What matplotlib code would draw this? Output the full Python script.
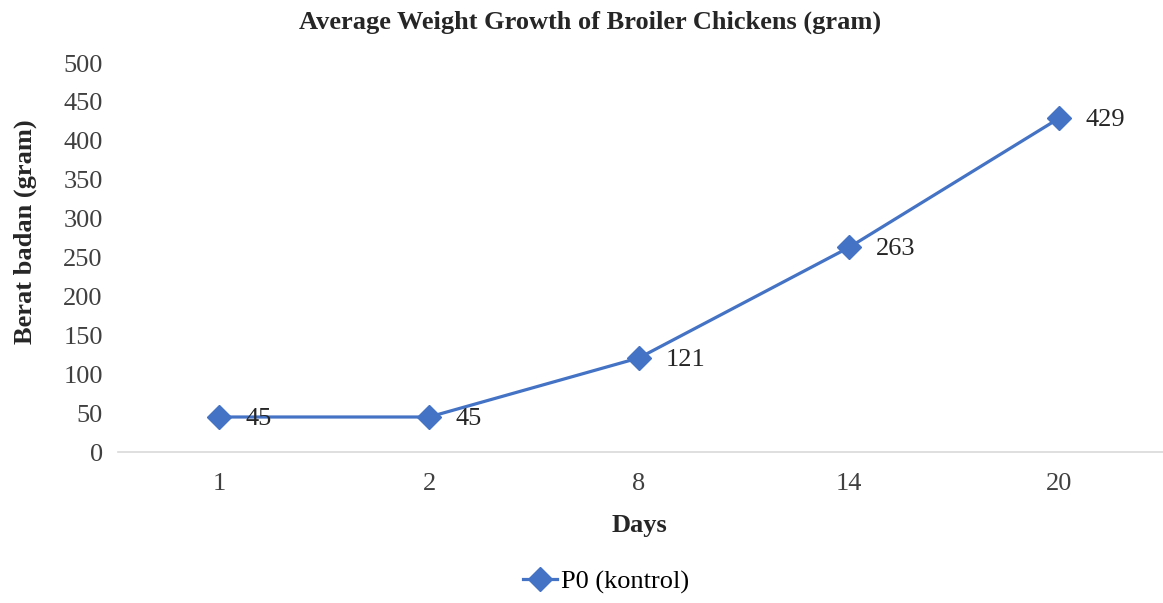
import matplotlib.pyplot as plt

days = ["1", "2", "8", "14", "20"]
weights = [45, 45, 121, 263, 429]
yticks = [0, 50, 100, 150, 200, 250, 300, 350, 400, 450, 500]

plt.rcParams['font.family'] = ['Liberation Serif', 'DejaVu Serif']
FS = 19

fig = plt.figure(figsize=(11.63, 6.03), dpi=100)
ax = fig.add_axes([0.1015, 0.2504, 0.8985, 0.6451])

x = list(range(len(days)))
ax.plot(x, weights, color='#4472C4', linewidth=2.3, marker='D', markersize=12,
        label='P0 (kontrol)')

# data labels to the right of each point
for xi, w in zip(x, weights):
    ax.annotate(str(w), (xi, w), xytext=(19, -1.5), textcoords='offset points',
                ha='left', va='center', fontsize=FS, color='#262626')

ax.set_xlim(-0.481, 4.495)
ax.set_ylim(0, 500)
ax.set_xticks(x)
ax.set_xticklabels(days)
ax.set_yticks(yticks)
ax.tick_params(axis='both', length=0, labelsize=FS, colors='#404040')
ax.tick_params(axis='x', pad=15)
ax.tick_params(axis='y', pad=11)

for side in ['top', 'right', 'left']:
    ax.spines[side].set_visible(False)
ax.spines['bottom'].set_color('#D9D9D9')
ax.spines['bottom'].set_linewidth(1.2)

fig.text(0.507, 0.9635, "Average Weight Growth of Broiler Chickens (gram)",
         ha='center', va='center', fontsize=FS, fontweight='bold', color='#262626')
fig.text(0.550, 0.128, "Days", ha='center', va='center', fontsize=FS,
         fontweight='bold', color='#262626')
fig.text(0.0215, 0.615, "Berat badan (gram)", ha='center', va='center',
         rotation=90, fontsize=FS, fontweight='bold', color='#262626')

fig.legend(loc='center', bbox_to_anchor=(0.521, 0.035), frameon=False, fontsize=FS,
           handlelength=1.3, handletextpad=0.15, borderpad=0)

plt.savefig('out.png', dpi=100)
